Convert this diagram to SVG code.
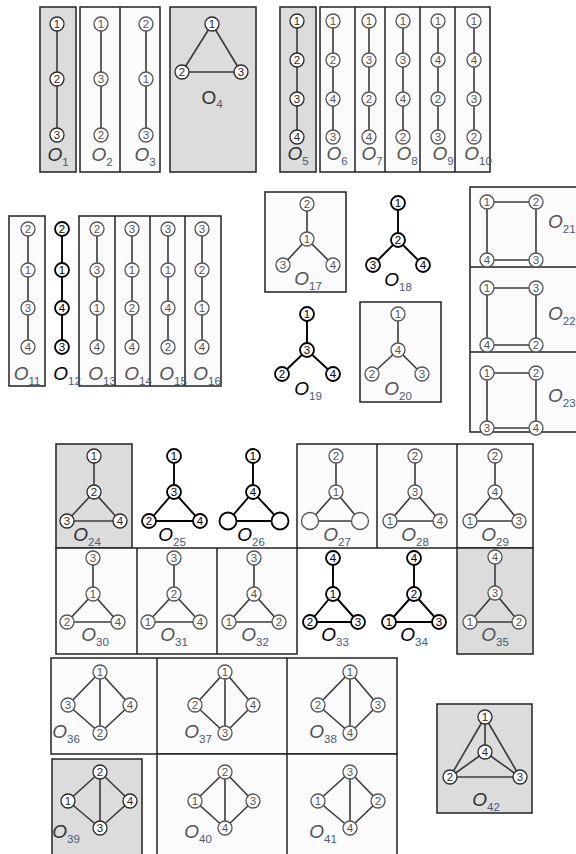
<svg xmlns="http://www.w3.org/2000/svg" width="576" height="854" viewBox="0 0 576 854">
<style>
.bx{stroke:#222;stroke-width:1.5}
.gr{fill:#dcdcdc}
.lt{fill:#fbfbfb}
.dv{stroke:#222;stroke-width:1.5}
.c{stroke:#3a3a3a;stroke-width:1.6}
.ck{stroke:#000;stroke-width:1.9}
.nd circle{fill:#fff;stroke:#555;stroke-width:1.3}
.nd text{font-family:"Liberation Sans",Arial,sans-serif;font-size:11.5px;fill:#555;text-anchor:middle}
.dk circle{stroke:#2a2a2a}
.dk text{fill:#2a2a2a}
.bk circle{stroke:#000;stroke-width:1.8}
.bk text{fill:#000}
.lab{font-family:"Liberation Sans",Arial,sans-serif;font-style:italic;font-size:19px;fill:#555;text-anchor:middle}
.lab tspan{font-style:normal;font-size:11.5px;fill:#4a5a70}
.lk{fill:#000}
.ld{fill:#333}
.up{font-style:normal}
.st{text-anchor:start}
</style>

<g id="boxes">
<rect class="bx gr" x="40" y="7" width="36" height="165"/>
<rect class="bx lt" x="80" y="7" width="80" height="165"/>
<line class="dv" x1="120" y1="7" x2="120" y2="172"/>
<rect class="bx gr" x="170" y="7" width="86" height="165"/>
<rect class="bx gr" x="280" y="7" width="36" height="165"/>
<rect class="bx lt" x="320" y="7" width="170" height="165"/>
<line class="dv" x1="355" y1="7" x2="355" y2="172"/>
<line class="dv" x1="385" y1="7" x2="385" y2="172"/>
<line class="dv" x1="420" y1="7" x2="420" y2="172"/>
<line class="dv" x1="455" y1="7" x2="455" y2="172"/>
<rect class="bx lt" x="9" y="216" width="36" height="170"/>
<rect class="bx lt" x="79" y="216" width="142" height="170"/>
<line class="dv" x1="115" y1="216" x2="115" y2="386"/>
<line class="dv" x1="150" y1="216" x2="150" y2="386"/>
<line class="dv" x1="185" y1="216" x2="185" y2="386"/>
<rect class="bx lt" x="265" y="192" width="81" height="100"/>
<rect class="bx lt" x="360" y="302" width="81" height="100"/>
<rect class="bx lt" x="470" y="187" width="110" height="245"/>
<line class="dv" x1="470" y1="267" x2="576" y2="267"/>
<line class="dv" x1="470" y1="352" x2="576" y2="352"/>
<rect class="bx gr" x="56" y="444" width="76" height="104"/>
<rect class="bx lt" x="297" y="444" width="236" height="104"/>
<line class="dv" x1="377" y1="444" x2="377" y2="548"/>
<line class="dv" x1="457" y1="444" x2="457" y2="548"/>
<rect class="bx lt" x="56" y="548" width="241" height="106"/>
<line class="dv" x1="137" y1="548" x2="137" y2="654"/>
<line class="dv" x1="217" y1="548" x2="217" y2="654"/>
<rect class="bx gr" x="457" y="548" width="76" height="106"/>
<rect class="bx lt" x="51" y="658" width="346" height="96"/>
<line class="dv" x1="157" y1="658" x2="157" y2="754"/>
<line class="dv" x1="287" y1="658" x2="287" y2="754"/>
<rect class="bx gr" x="52" y="759" width="90" height="100"/>
<rect class="bx lt" x="157" y="754" width="240" height="105"/>
<line class="dv" x1="287" y1="754" x2="287" y2="859"/>
<rect class="bx gr" x="437" y="704" width="95" height="109"/>
</g>

<g id="connectors">
<line class="c" x1="57" y1="24" x2="57" y2="79"/><line class="c" x1="57" y1="79" x2="57" y2="135"/>
<line class="c" x1="101" y1="24" x2="101" y2="79"/><line class="c" x1="101" y1="79" x2="101" y2="135"/>
<line class="c" x1="146" y1="24" x2="146" y2="79"/><line class="c" x1="146" y1="79" x2="146" y2="135"/>
<line class="c" x1="212" y1="24" x2="182" y2="72"/><line class="c" x1="212" y1="24" x2="241" y2="72"/><line class="c" x1="182" y1="72" x2="241" y2="72"/>
<line class="c" x1="297" y1="21" x2="297" y2="60"/><line class="c" x1="297" y1="60" x2="297" y2="99"/><line class="c" x1="297" y1="99" x2="297" y2="137"/>
<line class="c" x1="333" y1="21" x2="333" y2="60"/><line class="c" x1="333" y1="60" x2="333" y2="99"/><line class="c" x1="333" y1="99" x2="333" y2="137"/>
<line class="c" x1="369" y1="21" x2="369" y2="60"/><line class="c" x1="369" y1="60" x2="369" y2="99"/><line class="c" x1="369" y1="99" x2="369" y2="137"/>
<line class="c" x1="403" y1="21" x2="403" y2="60"/><line class="c" x1="403" y1="60" x2="403" y2="99"/><line class="c" x1="403" y1="99" x2="403" y2="137"/>
<line class="c" x1="438" y1="21" x2="438" y2="60"/><line class="c" x1="438" y1="60" x2="438" y2="99"/><line class="c" x1="438" y1="99" x2="438" y2="137"/>
<line class="c" x1="474" y1="21" x2="474" y2="60"/><line class="c" x1="474" y1="60" x2="474" y2="99"/><line class="c" x1="474" y1="99" x2="474" y2="137"/>
<line class="c" x1="28" y1="229" x2="28" y2="270"/><line class="c" x1="28" y1="270" x2="28" y2="308"/><line class="c" x1="28" y1="308" x2="28" y2="347"/>
<line class="ck" x1="62" y1="229" x2="62" y2="270"/><line class="ck" x1="62" y1="270" x2="62" y2="308"/><line class="ck" x1="62" y1="308" x2="62" y2="347"/>
<line class="c" x1="97" y1="229" x2="97" y2="270"/><line class="c" x1="97" y1="270" x2="97" y2="308"/><line class="c" x1="97" y1="308" x2="97" y2="347"/>
<line class="c" x1="132" y1="229" x2="132" y2="270"/><line class="c" x1="132" y1="270" x2="132" y2="308"/><line class="c" x1="132" y1="308" x2="132" y2="347"/>
<line class="c" x1="168" y1="229" x2="168" y2="270"/><line class="c" x1="168" y1="270" x2="168" y2="308"/><line class="c" x1="168" y1="308" x2="168" y2="347"/>
<line class="c" x1="202" y1="229" x2="202" y2="270"/><line class="c" x1="202" y1="270" x2="202" y2="308"/><line class="c" x1="202" y1="308" x2="202" y2="347"/>
<line class="c" x1="307" y1="204" x2="307" y2="239"/><line class="c" x1="307" y1="239" x2="283" y2="265"/><line class="c" x1="307" y1="239" x2="333" y2="265"/>
<line class="ck" x1="398" y1="203" x2="398" y2="240"/><line class="ck" x1="398" y1="240" x2="373" y2="265"/><line class="ck" x1="398" y1="240" x2="423" y2="265"/>
<line class="ck" x1="307" y1="314" x2="307" y2="350"/><line class="ck" x1="307" y1="350" x2="282" y2="374"/><line class="ck" x1="307" y1="350" x2="333" y2="374"/>
<line class="c" x1="398" y1="314" x2="398" y2="350"/><line class="c" x1="398" y1="350" x2="372" y2="374"/><line class="c" x1="398" y1="350" x2="422" y2="374"/>
<line class="c" x1="487" y1="202" x2="536" y2="202"/><line class="c" x1="536" y1="202" x2="536" y2="260"/><line class="c" x1="536" y1="260" x2="487" y2="260"/><line class="c" x1="487" y1="260" x2="487" y2="202"/>
<line class="c" x1="487" y1="288" x2="536" y2="288"/><line class="c" x1="536" y1="288" x2="536" y2="345"/><line class="c" x1="536" y1="345" x2="487" y2="345"/><line class="c" x1="487" y1="345" x2="487" y2="288"/>
<line class="c" x1="487" y1="373" x2="536" y2="373"/><line class="c" x1="536" y1="373" x2="536" y2="428"/><line class="c" x1="536" y1="428" x2="487" y2="428"/><line class="c" x1="487" y1="428" x2="487" y2="373"/>
<line class="c" x1="94" y1="456" x2="94" y2="492"/><line class="c" x1="94" y1="492" x2="67" y2="521"/><line class="c" x1="94" y1="492" x2="120" y2="521"/><line class="c" x1="67" y1="521" x2="120" y2="521"/>
<line class="ck" x1="174" y1="456" x2="174" y2="492"/><line class="ck" x1="174" y1="492" x2="149" y2="521"/><line class="ck" x1="174" y1="492" x2="200" y2="521"/><line class="ck" x1="149" y1="521" x2="200" y2="521"/>
<line class="ck" x1="253" y1="456" x2="253" y2="492"/><line class="ck" x1="253" y1="492" x2="228" y2="521"/><line class="ck" x1="253" y1="492" x2="280" y2="521"/><line class="ck" x1="228" y1="521" x2="280" y2="521"/>
<line class="c" x1="336" y1="456" x2="336" y2="492"/><line class="c" x1="336" y1="492" x2="310" y2="521"/><line class="c" x1="336" y1="492" x2="360" y2="521"/><line class="c" x1="310" y1="521" x2="360" y2="521"/>
<line class="c" x1="415" y1="456" x2="415" y2="492"/><line class="c" x1="415" y1="492" x2="390" y2="521"/><line class="c" x1="415" y1="492" x2="440" y2="521"/><line class="c" x1="390" y1="521" x2="440" y2="521"/>
<line class="c" x1="495" y1="456" x2="495" y2="492"/><line class="c" x1="495" y1="492" x2="470" y2="521"/><line class="c" x1="495" y1="492" x2="519" y2="521"/><line class="c" x1="470" y1="521" x2="519" y2="521"/>
<line class="c" x1="93" y1="558" x2="93" y2="594"/><line class="c" x1="93" y1="594" x2="67" y2="622"/><line class="c" x1="93" y1="594" x2="118" y2="622"/><line class="c" x1="67" y1="622" x2="118" y2="622"/>
<line class="c" x1="174" y1="558" x2="174" y2="594"/><line class="c" x1="174" y1="594" x2="148" y2="622"/><line class="c" x1="174" y1="594" x2="200" y2="622"/><line class="c" x1="148" y1="622" x2="200" y2="622"/>
<line class="c" x1="254" y1="558" x2="254" y2="594"/><line class="c" x1="254" y1="594" x2="229" y2="622"/><line class="c" x1="254" y1="594" x2="279" y2="622"/><line class="c" x1="229" y1="622" x2="279" y2="622"/>
<line class="ck" x1="333" y1="558" x2="333" y2="594"/><line class="ck" x1="333" y1="594" x2="310" y2="622"/><line class="ck" x1="333" y1="594" x2="358" y2="622"/><line class="ck" x1="310" y1="622" x2="358" y2="622"/>
<line class="ck" x1="414" y1="558" x2="414" y2="594"/><line class="ck" x1="414" y1="594" x2="389" y2="622"/><line class="ck" x1="414" y1="594" x2="439" y2="622"/><line class="ck" x1="389" y1="622" x2="439" y2="622"/>
<line class="c" x1="495" y1="557" x2="495" y2="593"/><line class="c" x1="495" y1="593" x2="470" y2="622"/><line class="c" x1="495" y1="593" x2="519" y2="622"/><line class="c" x1="470" y1="622" x2="519" y2="622"/>
<line class="c" x1="100" y1="672" x2="68" y2="705"/><line class="c" x1="100" y1="672" x2="130" y2="705"/><line class="c" x1="100" y1="672" x2="100" y2="733"/><line class="c" x1="68" y1="705" x2="100" y2="733"/><line class="c" x1="130" y1="705" x2="100" y2="733"/>
<line class="c" x1="225" y1="672" x2="195" y2="705"/><line class="c" x1="225" y1="672" x2="253" y2="705"/><line class="c" x1="225" y1="672" x2="225" y2="733"/><line class="c" x1="195" y1="705" x2="225" y2="733"/><line class="c" x1="253" y1="705" x2="225" y2="733"/>
<line class="c" x1="350" y1="672" x2="318" y2="705"/><line class="c" x1="350" y1="672" x2="378" y2="705"/><line class="c" x1="350" y1="672" x2="350" y2="733"/><line class="c" x1="318" y1="705" x2="350" y2="733"/><line class="c" x1="378" y1="705" x2="350" y2="733"/>
<line class="c" x1="100" y1="772" x2="68" y2="801"/><line class="c" x1="100" y1="772" x2="130" y2="801"/><line class="c" x1="100" y1="772" x2="100" y2="828"/><line class="c" x1="68" y1="801" x2="100" y2="828"/><line class="c" x1="130" y1="801" x2="100" y2="828"/>
<line class="c" x1="225" y1="772" x2="195" y2="801"/><line class="c" x1="225" y1="772" x2="253" y2="801"/><line class="c" x1="225" y1="772" x2="225" y2="828"/><line class="c" x1="195" y1="801" x2="225" y2="828"/><line class="c" x1="253" y1="801" x2="225" y2="828"/>
<line class="c" x1="350" y1="772" x2="318" y2="801"/><line class="c" x1="350" y1="772" x2="378" y2="801"/><line class="c" x1="350" y1="772" x2="350" y2="828"/><line class="c" x1="318" y1="801" x2="350" y2="828"/><line class="c" x1="378" y1="801" x2="350" y2="828"/>
<line class="c" x1="485" y1="717" x2="485" y2="752"/><line class="c" x1="485" y1="717" x2="450" y2="777"/><line class="c" x1="485" y1="717" x2="520" y2="777"/><line class="c" x1="450" y1="777" x2="520" y2="777"/><line class="c" x1="485" y1="752" x2="450" y2="777"/><line class="c" x1="485" y1="752" x2="520" y2="777"/>
</g>

<g id="fig-O1">
<g id="O1-n1" class="nd dk"><circle cx="57" cy="24" r="7"/><text x="57" y="28">1</text></g>
<g id="O1-n2" class="nd dk"><circle cx="57" cy="79" r="7"/><text x="57" y="83">2</text></g>
<g id="O1-n3" class="nd dk"><circle cx="57" cy="135" r="7"/><text x="57" y="139">3</text></g>
<text class="lab ld" x="58" y="161">O<tspan dy="5">1</tspan></text>
</g>
<g id="fig-O2">
<g id="O2-n1" class="nd"><circle cx="101" cy="24" r="7"/><text x="101" y="28">1</text></g>
<g id="O2-n3" class="nd"><circle cx="101" cy="79" r="7"/><text x="101" y="83">3</text></g>
<g id="O2-n2" class="nd"><circle cx="101" cy="135" r="7"/><text x="101" y="139">2</text></g>
<text class="lab" x="102" y="161">O<tspan dy="5">2</tspan></text>
</g>
<g id="fig-O3">
<g id="O3-n2" class="nd"><circle cx="146" cy="24" r="7"/><text x="146" y="28">2</text></g>
<g id="O3-n1" class="nd"><circle cx="146" cy="79" r="7"/><text x="146" y="83">1</text></g>
<g id="O3-n3" class="nd"><circle cx="146" cy="135" r="7"/><text x="146" y="139">3</text></g>
<text class="lab" x="145" y="161">O<tspan dy="5">3</tspan></text>
</g>
<g id="fig-O4">
<g id="O4-n1" class="nd dk"><circle cx="212" cy="24" r="7"/><text x="212" y="28">1</text></g>
<g id="O4-n2" class="nd dk"><circle cx="182" cy="72" r="7"/><text x="182" y="76">2</text></g>
<g id="O4-n3" class="nd dk"><circle cx="241" cy="72" r="7"/><text x="241" y="76">3</text></g>
<text class="lab ld up" x="212" y="104">O<tspan dy="4">4</tspan></text>
</g>
<g id="fig-O5">
<g id="O5-n1" class="nd dk"><circle cx="297" cy="21" r="7"/><text x="297" y="25">1</text></g>
<g id="O5-n2" class="nd dk"><circle cx="297" cy="60" r="7"/><text x="297" y="64">2</text></g>
<g id="O5-n3" class="nd dk"><circle cx="297" cy="99" r="7"/><text x="297" y="103">3</text></g>
<g id="O5-n4" class="nd dk"><circle cx="297" cy="137" r="7"/><text x="297" y="141">4</text></g>
<text class="lab ld" x="298" y="160">O<tspan dy="5">5</tspan></text>
</g>
<g id="fig-O6">
<g id="O6-n1" class="nd"><circle cx="333" cy="21" r="7"/><text x="333" y="25">1</text></g>
<g id="O6-n2" class="nd"><circle cx="333" cy="60" r="7"/><text x="333" y="64">2</text></g>
<g id="O6-n4" class="nd"><circle cx="333" cy="99" r="7"/><text x="333" y="103">4</text></g>
<g id="O6-n3" class="nd"><circle cx="333" cy="137" r="7"/><text x="333" y="141">3</text></g>
<text class="lab" x="337" y="160">O<tspan dy="5">6</tspan></text>
</g>
<g id="fig-O7">
<g id="O7-n1" class="nd"><circle cx="369" cy="21" r="7"/><text x="369" y="25">1</text></g>
<g id="O7-n3" class="nd"><circle cx="369" cy="60" r="7"/><text x="369" y="64">3</text></g>
<g id="O7-n2" class="nd"><circle cx="369" cy="99" r="7"/><text x="369" y="103">2</text></g>
<g id="O7-n4" class="nd"><circle cx="369" cy="137" r="7"/><text x="369" y="141">4</text></g>
<text class="lab" x="372" y="160">O<tspan dy="5">7</tspan></text>
</g>
<g id="fig-O8">
<g id="O8-n1" class="nd"><circle cx="403" cy="21" r="7"/><text x="403" y="25">1</text></g>
<g id="O8-n3" class="nd"><circle cx="403" cy="60" r="7"/><text x="403" y="64">3</text></g>
<g id="O8-n4" class="nd"><circle cx="403" cy="99" r="7"/><text x="403" y="103">4</text></g>
<g id="O8-n2" class="nd"><circle cx="403" cy="137" r="7"/><text x="403" y="141">2</text></g>
<text class="lab" x="407" y="160">O<tspan dy="5">8</tspan></text>
</g>
<g id="fig-O9">
<g id="O9-n1" class="nd"><circle cx="438" cy="21" r="7"/><text x="438" y="25">1</text></g>
<g id="O9-n4" class="nd"><circle cx="438" cy="60" r="7"/><text x="438" y="64">4</text></g>
<g id="O9-n2" class="nd"><circle cx="438" cy="99" r="7"/><text x="438" y="103">2</text></g>
<g id="O9-n3" class="nd"><circle cx="438" cy="137" r="7"/><text x="438" y="141">3</text></g>
<text class="lab" x="443" y="160">O<tspan dy="5">9</tspan></text>
</g>
<g id="fig-O10">
<g id="O10-n1" class="nd"><circle cx="474" cy="21" r="7"/><text x="474" y="25">1</text></g>
<g id="O10-n4" class="nd"><circle cx="474" cy="60" r="7"/><text x="474" y="64">4</text></g>
<g id="O10-n3" class="nd"><circle cx="474" cy="99" r="7"/><text x="474" y="103">3</text></g>
<g id="O10-n2" class="nd"><circle cx="474" cy="137" r="7"/><text x="474" y="141">2</text></g>
<text class="lab" x="478" y="160">O<tspan dy="5">10</tspan></text>
</g>

<g id="fig-O11">
<g id="O11-n2" class="nd"><circle cx="28" cy="229" r="7"/><text x="28" y="233">2</text></g>
<g id="O11-n1" class="nd"><circle cx="28" cy="270" r="7"/><text x="28" y="274">1</text></g>
<g id="O11-n3" class="nd"><circle cx="28" cy="308" r="7"/><text x="28" y="312">3</text></g>
<g id="O11-n4" class="nd"><circle cx="28" cy="347" r="7"/><text x="28" y="351">4</text></g>
<text class="lab" x="27" y="380">O<tspan dy="5">11</tspan></text>
</g>
<g id="fig-O12">
<g id="O12-n2" class="nd bk"><circle cx="62" cy="229" r="7"/><text x="62" y="233">2</text></g>
<g id="O12-n1" class="nd bk"><circle cx="62" cy="270" r="7"/><text x="62" y="274">1</text></g>
<g id="O12-n4" class="nd bk"><circle cx="62" cy="308" r="7"/><text x="62" y="312">4</text></g>
<g id="O12-n3" class="nd bk"><circle cx="62" cy="347" r="7"/><text x="62" y="351">3</text></g>
<text class="lab lk" x="67" y="380">O<tspan dy="5">12</tspan></text>
</g>
<g id="fig-O13">
<g id="O13-n2" class="nd"><circle cx="97" cy="229" r="7"/><text x="97" y="233">2</text></g>
<g id="O13-n3" class="nd"><circle cx="97" cy="270" r="7"/><text x="97" y="274">3</text></g>
<g id="O13-n1" class="nd"><circle cx="97" cy="308" r="7"/><text x="97" y="312">1</text></g>
<g id="O13-n4" class="nd"><circle cx="97" cy="347" r="7"/><text x="97" y="351">4</text></g>
<text class="lab" x="102" y="380">O<tspan dy="5">13</tspan></text>
</g>
<g id="fig-O14">
<g id="O14-n3" class="nd"><circle cx="132" cy="229" r="7"/><text x="132" y="233">3</text></g>
<g id="O14-n1" class="nd"><circle cx="132" cy="270" r="7"/><text x="132" y="274">1</text></g>
<g id="O14-n2" class="nd"><circle cx="132" cy="308" r="7"/><text x="132" y="312">2</text></g>
<g id="O14-n4" class="nd"><circle cx="132" cy="347" r="7"/><text x="132" y="351">4</text></g>
<text class="lab" x="138" y="380">O<tspan dy="5">14</tspan></text>
</g>
<g id="fig-O15">
<g id="O15-n3" class="nd"><circle cx="168" cy="229" r="7"/><text x="168" y="233">3</text></g>
<g id="O15-n1" class="nd"><circle cx="168" cy="270" r="7"/><text x="168" y="274">1</text></g>
<g id="O15-n4" class="nd"><circle cx="168" cy="308" r="7"/><text x="168" y="312">4</text></g>
<g id="O15-n2" class="nd"><circle cx="168" cy="347" r="7"/><text x="168" y="351">2</text></g>
<text class="lab" x="173" y="380">O<tspan dy="5">15</tspan></text>
</g>
<g id="fig-O16">
<g id="O16-n3" class="nd"><circle cx="202" cy="229" r="7"/><text x="202" y="233">3</text></g>
<g id="O16-n2" class="nd"><circle cx="202" cy="270" r="7"/><text x="202" y="274">2</text></g>
<g id="O16-n1" class="nd"><circle cx="202" cy="308" r="7"/><text x="202" y="312">1</text></g>
<g id="O16-n4" class="nd"><circle cx="202" cy="347" r="7"/><text x="202" y="351">4</text></g>
<text class="lab" x="207" y="380">O<tspan dy="5">16</tspan></text>
</g>

<g id="fig-O17">
<g id="O17-n2" class="nd"><circle cx="307" cy="204" r="7"/><text x="307" y="208">2</text></g>
<g id="O17-n1" class="nd"><circle cx="307" cy="239" r="7"/><text x="307" y="243">1</text></g>
<g id="O17-n3" class="nd"><circle cx="283" cy="265" r="7"/><text x="283" y="269">3</text></g>
<g id="O17-n4" class="nd"><circle cx="333" cy="265" r="7"/><text x="333" y="269">4</text></g>
<text class="lab" x="308" y="285">O<tspan dy="5">17</tspan></text>
</g>
<g id="fig-O18">
<g id="O18-n1" class="nd bk"><circle cx="398" cy="203" r="7"/><text x="398" y="207">1</text></g>
<g id="O18-n2" class="nd bk"><circle cx="398" cy="240" r="7"/><text x="398" y="244">2</text></g>
<g id="O18-n3" class="nd bk"><circle cx="373" cy="265" r="7"/><text x="373" y="269">3</text></g>
<g id="O18-n4" class="nd bk"><circle cx="423" cy="265" r="7"/><text x="423" y="269">4</text></g>
<text class="lab lk" x="398" y="286">O<tspan dy="5">18</tspan></text>
</g>
<g id="fig-O19">
<g id="O19-n1" class="nd bk"><circle cx="307" cy="314" r="7"/><text x="307" y="318">1</text></g>
<g id="O19-n3" class="nd bk"><circle cx="307" cy="350" r="7"/><text x="307" y="354">3</text></g>
<g id="O19-n2" class="nd bk"><circle cx="282" cy="374" r="7"/><text x="282" y="378">2</text></g>
<g id="O19-n4" class="nd bk"><circle cx="333" cy="374" r="7"/><text x="333" y="378">4</text></g>
<text class="lab lk" x="308" y="395">O<tspan dy="5">19</tspan></text>
</g>
<g id="fig-O20">
<g id="O20-n1" class="nd"><circle cx="398" cy="314" r="7"/><text x="398" y="318">1</text></g>
<g id="O20-n4" class="nd"><circle cx="398" cy="350" r="7"/><text x="398" y="354">4</text></g>
<g id="O20-n2" class="nd"><circle cx="372" cy="374" r="7"/><text x="372" y="378">2</text></g>
<g id="O20-n3" class="nd"><circle cx="422" cy="374" r="7"/><text x="422" y="378">3</text></g>
<text class="lab" x="398" y="395">O<tspan dy="5">20</tspan></text>
</g>

<g id="fig-O21">
<g id="O21-n1" class="nd"><circle cx="487" cy="202" r="7"/><text x="487" y="206">1</text></g>
<g id="O21-n2" class="nd"><circle cx="536" cy="202" r="7"/><text x="536" y="206">2</text></g>
<g id="O21-n3" class="nd"><circle cx="536" cy="260" r="7"/><text x="536" y="264">3</text></g>
<g id="O21-n4" class="nd"><circle cx="487" cy="260" r="7"/><text x="487" y="264">4</text></g>
<text class="lab st" x="548" y="228">O<tspan dy="5">21</tspan></text>
</g>
<g id="fig-O22">
<g id="O22-n1" class="nd"><circle cx="487" cy="288" r="7"/><text x="487" y="292">1</text></g>
<g id="O22-n3" class="nd"><circle cx="536" cy="288" r="7"/><text x="536" y="292">3</text></g>
<g id="O22-n2" class="nd"><circle cx="536" cy="345" r="7"/><text x="536" y="349">2</text></g>
<g id="O22-n4" class="nd"><circle cx="487" cy="345" r="7"/><text x="487" y="349">4</text></g>
<text class="lab st" x="548" y="320">O<tspan dy="5">22</tspan></text>
</g>
<g id="fig-O23">
<g id="O23-n1" class="nd"><circle cx="487" cy="373" r="7"/><text x="487" y="377">1</text></g>
<g id="O23-n2" class="nd"><circle cx="536" cy="373" r="7"/><text x="536" y="377">2</text></g>
<g id="O23-n4" class="nd"><circle cx="536" cy="428" r="7"/><text x="536" y="432">4</text></g>
<g id="O23-n3" class="nd"><circle cx="487" cy="428" r="7"/><text x="487" y="432">3</text></g>
<text class="lab st" x="548" y="402">O<tspan dy="5">23</tspan></text>
</g>

<g id="fig-O24">
<g id="O24-n1" class="nd dk"><circle cx="94" cy="456" r="7"/><text x="94" y="460">1</text></g>
<g id="O24-n2" class="nd dk"><circle cx="94" cy="492" r="7"/><text x="94" y="496">2</text></g>
<g id="O24-n3" class="nd dk"><circle cx="67" cy="521" r="7"/><text x="67" y="525">3</text></g>
<g id="O24-n4" class="nd dk"><circle cx="120" cy="521" r="7"/><text x="120" y="525">4</text></g>
<text class="lab ld" x="87" y="541">O<tspan dy="5">24</tspan></text>
</g>
<g id="fig-O25">
<g id="O25-n1" class="nd bk"><circle cx="174" cy="456" r="7"/><text x="174" y="460">1</text></g>
<g id="O25-n3" class="nd bk"><circle cx="174" cy="492" r="7"/><text x="174" y="496">3</text></g>
<g id="O25-n2" class="nd bk"><circle cx="149" cy="521" r="7"/><text x="149" y="525">2</text></g>
<g id="O25-n4" class="nd bk"><circle cx="200" cy="521" r="7"/><text x="200" y="525">4</text></g>
<text class="lab lk" x="172" y="541">O<tspan dy="5">25</tspan></text>
</g>
<g id="fig-O26">
<g id="O26-n1" class="nd bk"><circle cx="253" cy="456" r="7"/><text x="253" y="460">1</text></g>
<g id="O26-n4" class="nd bk"><circle cx="253" cy="492" r="7"/><text x="253" y="496">4</text></g>
<g id="O26-e1" class="nd bk"><circle cx="228" cy="521" r="8.5"/></g>
<g id="O26-e2" class="nd bk"><circle cx="280" cy="521" r="8.5"/></g>
<text class="lab lk" x="251" y="541">O<tspan dy="5">26</tspan></text>
</g>
<g id="fig-O27">
<g id="O27-n2" class="nd"><circle cx="336" cy="456" r="7"/><text x="336" y="460">2</text></g>
<g id="O27-n1" class="nd"><circle cx="336" cy="492" r="7"/><text x="336" y="496">1</text></g>
<g id="O27-e1" class="nd"><circle cx="310" cy="521" r="8.5"/></g>
<g id="O27-e2" class="nd"><circle cx="360" cy="521" r="8.5"/></g>
<text class="lab" x="337" y="541">O<tspan dy="5">27</tspan></text>
</g>
<g id="fig-O28">
<g id="O28-n2" class="nd"><circle cx="415" cy="456" r="7"/><text x="415" y="460">2</text></g>
<g id="O28-n3" class="nd"><circle cx="415" cy="492" r="7"/><text x="415" y="496">3</text></g>
<g id="O28-n1" class="nd"><circle cx="390" cy="521" r="7"/><text x="390" y="525">1</text></g>
<g id="O28-n4" class="nd"><circle cx="440" cy="521" r="7"/><text x="440" y="525">4</text></g>
<text class="lab" x="415" y="541">O<tspan dy="5">28</tspan></text>
</g>
<g id="fig-O29">
<g id="O29-n2" class="nd"><circle cx="495" cy="456" r="7"/><text x="495" y="460">2</text></g>
<g id="O29-n4" class="nd"><circle cx="495" cy="492" r="7"/><text x="495" y="496">4</text></g>
<g id="O29-n1" class="nd"><circle cx="470" cy="521" r="7"/><text x="470" y="525">1</text></g>
<g id="O29-n3" class="nd"><circle cx="519" cy="521" r="7"/><text x="519" y="525">3</text></g>
<text class="lab" x="495" y="541">O<tspan dy="5">29</tspan></text>
</g>

<g id="fig-O30">
<g id="O30-n3" class="nd"><circle cx="93" cy="558" r="7"/><text x="93" y="562">3</text></g>
<g id="O30-n1" class="nd"><circle cx="93" cy="594" r="7"/><text x="93" y="598">1</text></g>
<g id="O30-n2" class="nd"><circle cx="67" cy="622" r="7"/><text x="67" y="626">2</text></g>
<g id="O30-n4" class="nd"><circle cx="118" cy="622" r="7"/><text x="118" y="626">4</text></g>
<text class="lab" x="95" y="641">O<tspan dy="5">30</tspan></text>
</g>
<g id="fig-O31">
<g id="O31-n3" class="nd"><circle cx="174" cy="558" r="7"/><text x="174" y="562">3</text></g>
<g id="O31-n2" class="nd"><circle cx="174" cy="594" r="7"/><text x="174" y="598">2</text></g>
<g id="O31-n1" class="nd"><circle cx="148" cy="622" r="7"/><text x="148" y="626">1</text></g>
<g id="O31-n4" class="nd"><circle cx="200" cy="622" r="7"/><text x="200" y="626">4</text></g>
<text class="lab" x="174" y="641">O<tspan dy="5">31</tspan></text>
</g>
<g id="fig-O32">
<g id="O32-n3" class="nd"><circle cx="254" cy="558" r="7"/><text x="254" y="562">3</text></g>
<g id="O32-n4" class="nd"><circle cx="254" cy="594" r="7"/><text x="254" y="598">4</text></g>
<g id="O32-n1" class="nd"><circle cx="229" cy="622" r="7"/><text x="229" y="626">1</text></g>
<g id="O32-n2" class="nd"><circle cx="279" cy="622" r="7"/><text x="279" y="626">2</text></g>
<text class="lab" x="255" y="641">O<tspan dy="5">32</tspan></text>
</g>
<g id="fig-O33">
<g id="O33-n4" class="nd bk"><circle cx="333" cy="558" r="7"/><text x="333" y="562">4</text></g>
<g id="O33-n1" class="nd bk"><circle cx="333" cy="594" r="7"/><text x="333" y="598">1</text></g>
<g id="O33-n2" class="nd bk"><circle cx="310" cy="622" r="7"/><text x="310" y="626">2</text></g>
<g id="O33-n3" class="nd bk"><circle cx="358" cy="622" r="7"/><text x="358" y="626">3</text></g>
<text class="lab lk" x="335" y="641">O<tspan dy="5">33</tspan></text>
</g>
<g id="fig-O34">
<g id="O34-n4" class="nd bk"><circle cx="414" cy="558" r="7"/><text x="414" y="562">4</text></g>
<g id="O34-n2" class="nd bk"><circle cx="414" cy="594" r="7"/><text x="414" y="598">2</text></g>
<g id="O34-n1" class="nd bk"><circle cx="389" cy="622" r="7"/><text x="389" y="626">1</text></g>
<g id="O34-n3" class="nd bk"><circle cx="439" cy="622" r="7"/><text x="439" y="626">3</text></g>
<text class="lab lk" x="414" y="641">O<tspan dy="5">34</tspan></text>
</g>
<g id="fig-O35">
<g id="O35-n4" class="nd"><circle cx="495" cy="557" r="7"/><text x="495" y="561">4</text></g>
<g id="O35-n3" class="nd"><circle cx="495" cy="593" r="7"/><text x="495" y="597">3</text></g>
<g id="O35-n1" class="nd"><circle cx="470" cy="622" r="7"/><text x="470" y="626">1</text></g>
<g id="O35-n2" class="nd"><circle cx="519" cy="622" r="7"/><text x="519" y="626">2</text></g>
<text class="lab" x="495" y="641">O<tspan dy="5">35</tspan></text>
</g>

<g id="fig-O36">
<g id="O36-n1" class="nd"><circle cx="100" cy="672" r="7"/><text x="100" y="676">1</text></g>
<g id="O36-n3" class="nd"><circle cx="68" cy="705" r="7"/><text x="68" y="709">3</text></g>
<g id="O36-n4" class="nd"><circle cx="130" cy="705" r="7"/><text x="130" y="709">4</text></g>
<g id="O36-n2" class="nd"><circle cx="100" cy="733" r="7"/><text x="100" y="737">2</text></g>
<text class="lab" x="66" y="738">O<tspan dy="5">36</tspan></text>
</g>
<g id="fig-O37">
<g id="O37-n1" class="nd"><circle cx="225" cy="672" r="7"/><text x="225" y="676">1</text></g>
<g id="O37-n2" class="nd"><circle cx="195" cy="705" r="7"/><text x="195" y="709">2</text></g>
<g id="O37-n4" class="nd"><circle cx="253" cy="705" r="7"/><text x="253" y="709">4</text></g>
<g id="O37-n3" class="nd"><circle cx="225" cy="733" r="7"/><text x="225" y="737">3</text></g>
<text class="lab" x="198" y="738">O<tspan dy="5">37</tspan></text>
</g>
<g id="fig-O38">
<g id="O38-n1" class="nd"><circle cx="350" cy="672" r="7"/><text x="350" y="676">1</text></g>
<g id="O38-n2" class="nd"><circle cx="318" cy="705" r="7"/><text x="318" y="709">2</text></g>
<g id="O38-n3" class="nd"><circle cx="378" cy="705" r="7"/><text x="378" y="709">3</text></g>
<g id="O38-n4" class="nd"><circle cx="350" cy="733" r="7"/><text x="350" y="737">4</text></g>
<text class="lab" x="323" y="738">O<tspan dy="5">38</tspan></text>
</g>
<g id="fig-O39">
<g id="O39-n2" class="nd dk"><circle cx="100" cy="772" r="7"/><text x="100" y="776">2</text></g>
<g id="O39-n1" class="nd dk"><circle cx="68" cy="801" r="7"/><text x="68" y="805">1</text></g>
<g id="O39-n4" class="nd dk"><circle cx="130" cy="801" r="7"/><text x="130" y="805">4</text></g>
<g id="O39-n3" class="nd dk"><circle cx="100" cy="828" r="7"/><text x="100" y="832">3</text></g>
<text class="lab ld" x="66" y="838">O<tspan dy="5">39</tspan></text>
</g>
<g id="fig-O40">
<g id="O40-n2" class="nd"><circle cx="225" cy="772" r="7"/><text x="225" y="776">2</text></g>
<g id="O40-n1" class="nd"><circle cx="195" cy="801" r="7"/><text x="195" y="805">1</text></g>
<g id="O40-n3" class="nd"><circle cx="253" cy="801" r="7"/><text x="253" y="805">3</text></g>
<g id="O40-n4" class="nd"><circle cx="225" cy="828" r="7"/><text x="225" y="832">4</text></g>
<text class="lab" x="198" y="838">O<tspan dy="5">40</tspan></text>
</g>
<g id="fig-O41">
<g id="O41-n3" class="nd"><circle cx="350" cy="772" r="7"/><text x="350" y="776">3</text></g>
<g id="O41-n1" class="nd"><circle cx="318" cy="801" r="7"/><text x="318" y="805">1</text></g>
<g id="O41-n2" class="nd"><circle cx="378" cy="801" r="7"/><text x="378" y="805">2</text></g>
<g id="O41-n4" class="nd"><circle cx="350" cy="828" r="7"/><text x="350" y="832">4</text></g>
<text class="lab" x="323" y="838">O<tspan dy="5">41</tspan></text>
</g>
<g id="fig-O42">
<g id="O42-n1" class="nd dk"><circle cx="485" cy="717" r="7"/><text x="485" y="721">1</text></g>
<g id="O42-n4" class="nd dk"><circle cx="485" cy="752" r="7"/><text x="485" y="756">4</text></g>
<g id="O42-n2" class="nd dk"><circle cx="450" cy="777" r="7"/><text x="450" y="781">2</text></g>
<g id="O42-n3" class="nd dk"><circle cx="520" cy="777" r="7"/><text x="520" y="781">3</text></g>
<text class="lab ld" x="486" y="806">O<tspan dy="5">42</tspan></text>
</g>
</svg>
